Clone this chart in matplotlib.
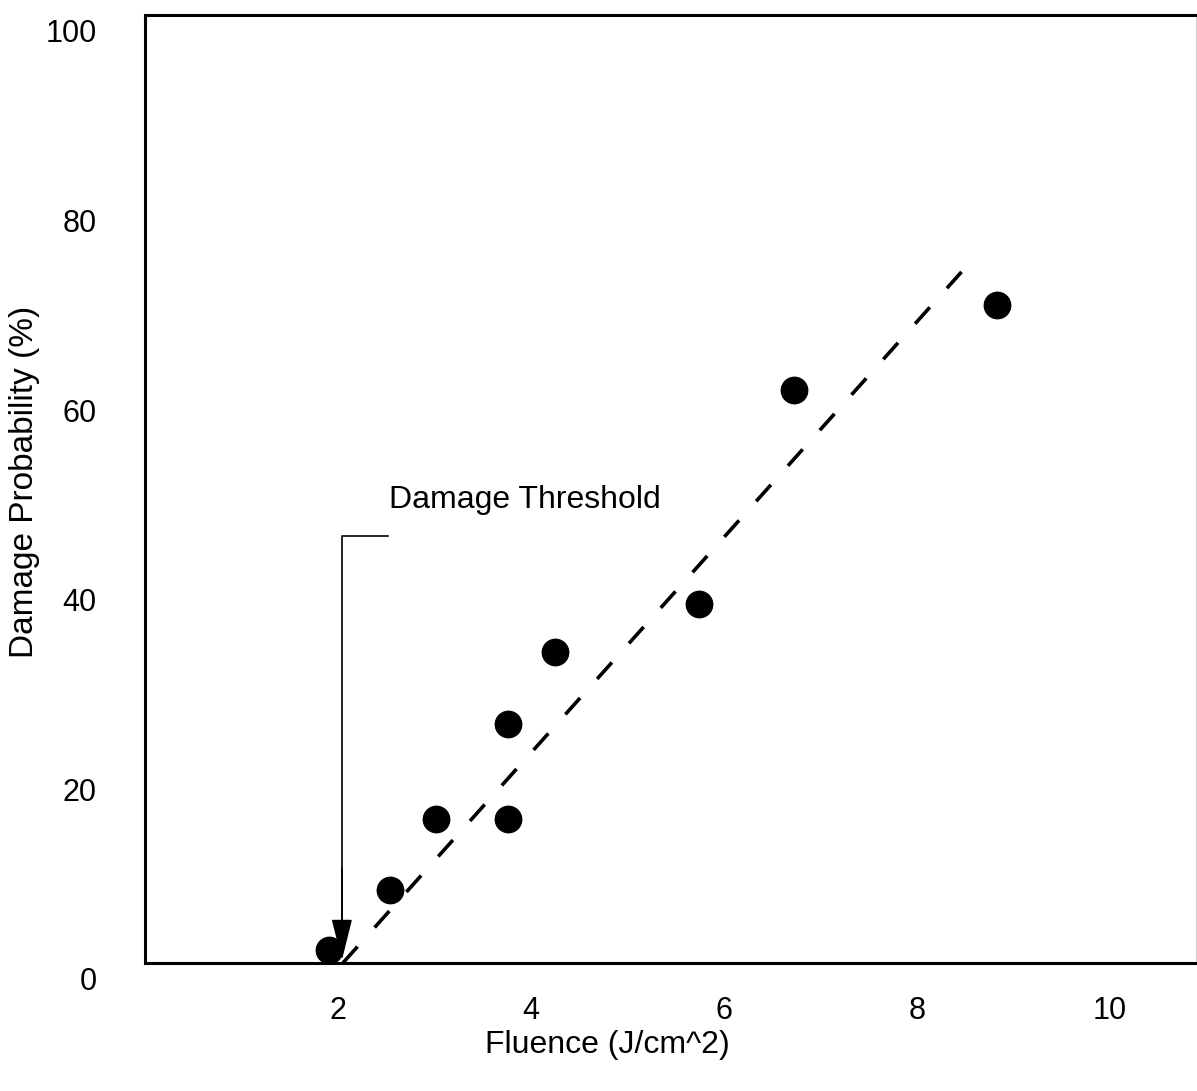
import matplotlib
matplotlib.use("Agg")
import matplotlib.pyplot as plt
import matplotlib.transforms as mtransforms

plt.rcParams['font.family'] = ['Liberation Sans', 'DejaVu Sans']

# Data
fluence = [1.91, 2.54, 3.02, 3.76, 3.76, 4.25, 5.74, 6.72, 8.83]
probability = [1.4, 7.7, 15.2, 25.2, 15.2, 32.8, 37.9, 60.4, 69.4]

fit_x = [2.05, 8.46]
fit_y = [0.0, 72.9]

threshold_x = 2.04
threshold_label = "Damage Threshold"

xticks = [2, 4, 6, 8, 10]
yticks = [0, 20, 40, 60, 80, 100]

fig = plt.figure(figsize=(11.97, 10.91), dpi=100)
ax = fig.add_axes([145/1197, 1 - 963/1091, (1197 - 145)/1197, (963 - 15)/1091])
ax.set_xlim(0, 10.9)
ax.set_ylim(0, 100)

for s in ax.spines.values():
    s.set_linewidth(2.2)
    s.set_color('black')
ax.spines['right'].set_linewidth(1.0)

# dashed fit line
ax.plot(fit_x, fit_y, color='black', lw=2.6, dashes=(6.1, 7.1), zorder=2)

# data points
ax.plot(fluence, probability, 'o', color='black', ms=19, zorder=3)

# threshold annotation
ax.plot([2.52, threshold_x, threshold_x], [45.0, 45.0, 4.0], color='black', lw=1.2, zorder=4)
ax.annotate('', xy=(threshold_x, 0.3), xytext=(threshold_x, 10.0),
            arrowprops=dict(arrowstyle='-|>,head_length=26,head_width=6.5',
                            mutation_scale=1, color='black', lw=1.2,
                            shrinkA=0, shrinkB=0), zorder=5)
ax.text(2.53, 48.0, threshold_label, fontsize=23, ha='left', va='baseline')

ax.set_xticks(xticks)
ax.set_yticks(yticks)
ax.set_xticklabels([str(t) for t in xticks])
ax.set_yticklabels([str(t) for t in yticks])
ax.tick_params(axis='both', length=0, labelsize=22)
ax.tick_params(axis='x', pad=24)
ax.tick_params(axis='y', pad=35)
offset = mtransforms.ScaledTranslation(0, -16/100, fig.dpi_scale_trans)
for lab in ax.get_yticklabels():
    lab.set_transform(lab.get_transform() + offset)

ax.set_xlabel("Fluence (J/cm^2)", fontsize=23)
ax.xaxis.set_label_coords((607 - 145)/1051, -(1045 - 963)/948)
ax.xaxis.label.set_va('center')
ax.set_ylabel("Damage Probability (%)", fontsize=24)
ax.yaxis.set_label_coords((25 - 145)/1051, (963 - 482)/948)
ax.yaxis.label.set_va('center')

fig.savefig("out.png", dpi=100)
